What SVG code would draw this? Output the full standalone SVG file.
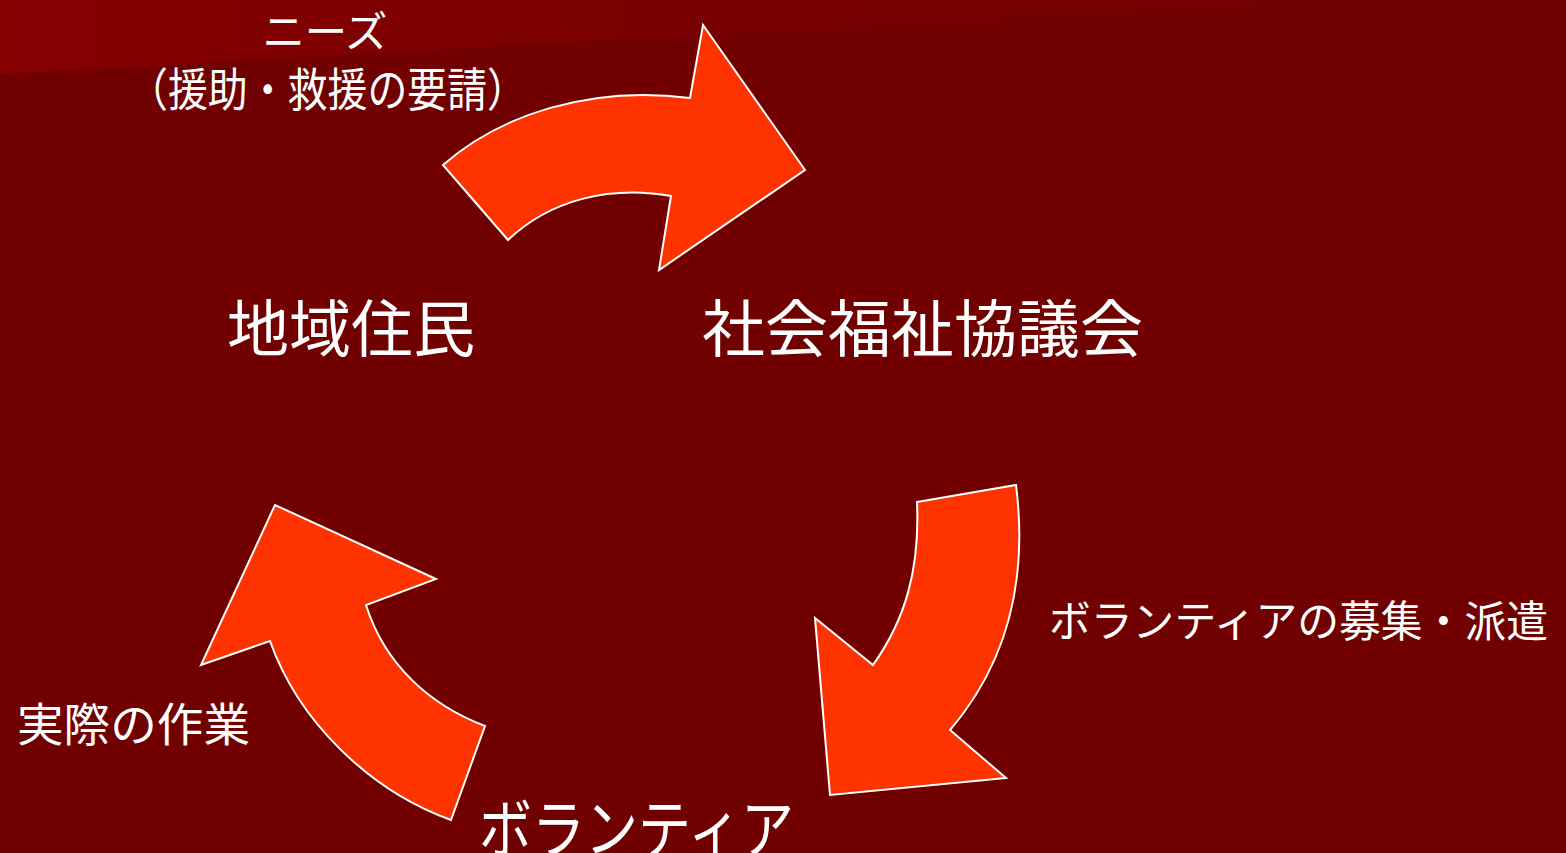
<svg xmlns="http://www.w3.org/2000/svg" width="1566" height="853" viewBox="0 0 1566 853">
<defs>
<linearGradient id="band" x1="0" y1="0" x2="1" y2="0">
<stop offset="0" stop-color="#860000"/>
<stop offset="0.55" stop-color="#790000"/>
<stop offset="1" stop-color="#730000"/>
</linearGradient>
<style>
.arrow{fill:#FF3300;stroke:#FFFFFF;stroke-width:2;stroke-linejoin:miter}
.t{fill:#FFFFFF;font-family:"Noto Sans CJK JP","Noto Sans CJK SC",sans-serif}
</style>
</defs>
<rect x="0" y="0" width="1566" height="853" fill="#710000"/>
<polygon points="0,0 1330,0 0,74" fill="url(#band)"/>
<g id="connectors">
<path id="arrow-needs" class="arrow" d="M443,165 C500,115 590,85 690,98 L703,25 L805,170 L659,270 L671,196 C610,185 550,200 508,240 Z"/>
<path id="arrow-dispatch" class="arrow" d="M917,502 L1016,485 C1028,580 1008,662 950,730 L1006,778 L830,795 L815,618 L873,665 C905,620 920,570 917,502 Z"/>
<path id="arrow-work" class="arrow" d="M451,820 L485,726 C430,705 385,665 366,605 L436,579 L275,505 L201,665 L270,641 C298,720 368,790 451,820 Z"/>
</g>
<g id="label-needs">
<text class="t" x="325" y="47" font-size="42" text-anchor="middle" textLength="125" lengthAdjust="spacingAndGlyphs">ニーズ</text>
<text class="t" x="128" y="106" font-size="46" textLength="399" lengthAdjust="spacingAndGlyphs">（援助・救援の要請）</text>
</g>
<g id="node-residents">
<text class="t" x="227" y="352" font-size="62" textLength="248" lengthAdjust="spacingAndGlyphs">地域住民</text>
</g>
<g id="node-council">
<text class="t" x="702" y="352" font-size="62" textLength="441" lengthAdjust="spacingAndGlyphs">社会福祉協議会</text>
</g>
<g id="label-dispatch">
<text class="t" x="1049" y="637" font-size="43" textLength="499" lengthAdjust="spacingAndGlyphs">ボランティアの募集・派遣</text>
</g>
<g id="label-work">
<text class="t" x="17" y="741" font-size="46" textLength="233" lengthAdjust="spacingAndGlyphs">実際の作業</text>
</g>
<g id="node-volunteer">
<text class="t" x="479" y="852" font-size="64" textLength="315" lengthAdjust="spacingAndGlyphs">ボランティア</text>
</g>
</svg>
